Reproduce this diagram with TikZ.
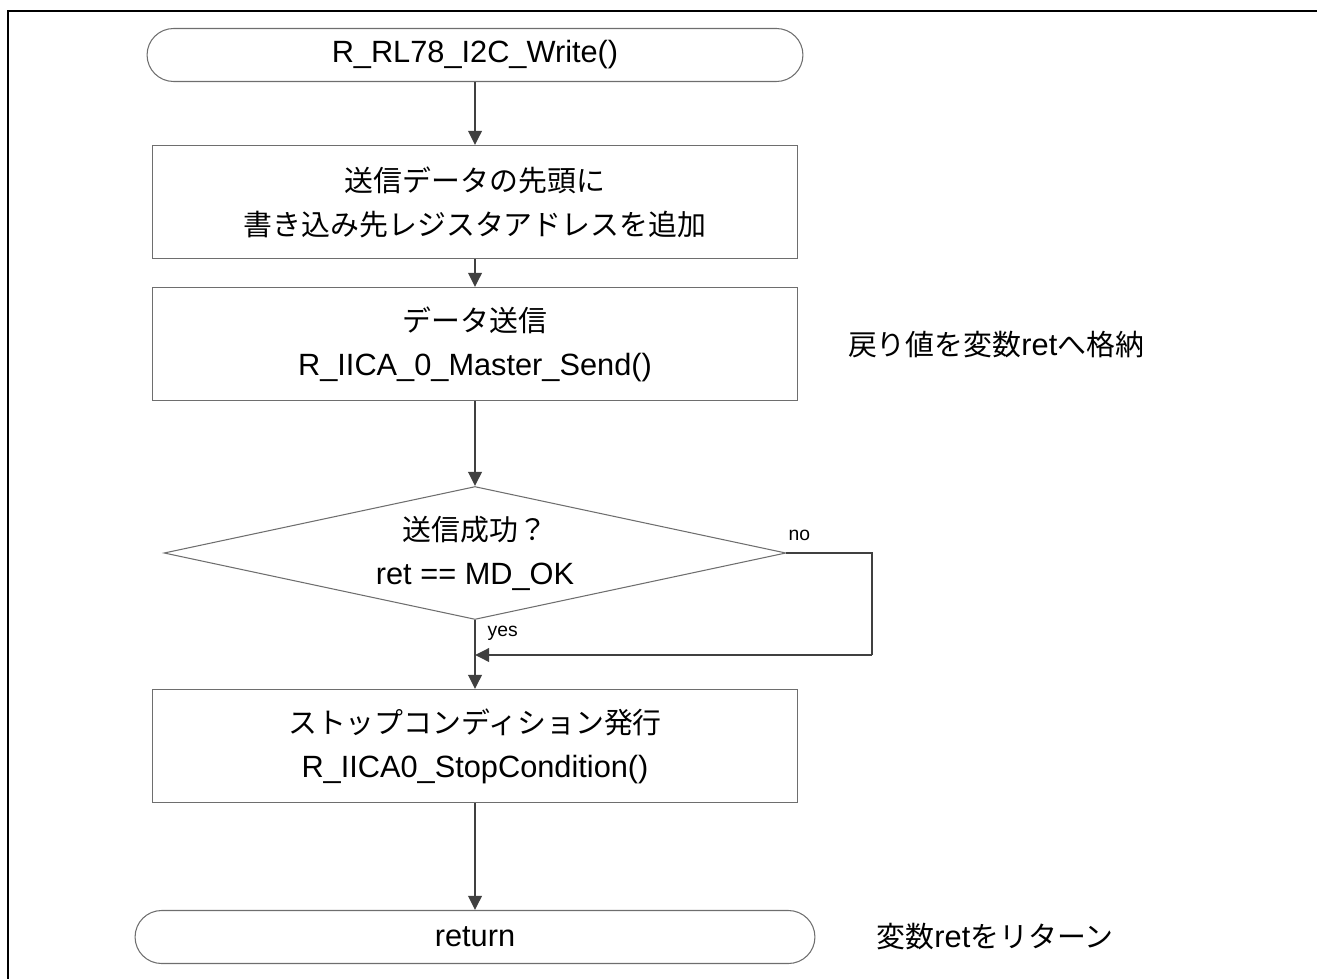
\documentclass[tikz,border=0pt]{standalone}
\usepackage{fontspec}
\setmainfont{Liberation Sans}
\newfontfamily\jp[Scale=0.94]{Noto Sans CJK JP}
\usetikzlibrary{arrows.meta,positioning,shapes.geometric}
\definecolor{flowgray}{RGB}{64,64,64}
\definecolor{boxgray}{RGB}{110,110,110}

\tikzset{
  term/.style={draw=boxgray, line width=0.6pt, rounded corners=0.53cm,
    minimum width=13.12cm, minimum height=1.06cm, inner sep=0pt,
    font=\fontsize{17.5}{21}\selectfont},
  proc/.style={draw=boxgray, line width=0.6pt, minimum width=12.9cm,
    minimum height=2.26cm, align=center, inner sep=0pt,
    font=\fontsize{17.5}{25}\selectfont},
  decide/.style={draw=boxgray, line width=0.6pt, diamond, aspect=4.68,
    minimum width=12.44cm, minimum height=2.66cm, inner sep=0pt,
    align=center, font=\fontsize{17.5}{25}\selectfont},
  note/.style={font=\fontsize{17.5}{21}\selectfont},
  tag/.style={font=\fontsize{11}{13}\selectfont, inner sep=1pt},
  flow/.style={-{Triangle[length=0.28cm,width=0.27cm]}, line width=1.1pt, flowgray},
  wire/.style={line width=1.1pt, flowgray}
}

\begin{document}
\begin{tikzpicture}[x=0.02cm, y=-0.02cm]
\useasboundingbox (0,0) rectangle (1317,979);
% frame
\draw [line width=1.5pt] (8,979) -- (8,11) -- (1317,11);

\node [term] (start) at (475,55) {R\_RL78\_I2C\_Write()};
\node [proc] (addr) at (475,202) {{\jp 送信データの先頭に}\\{\jp 書き込み先レジスタアドレスを追加}};
\node [proc] (send) at (475,344) {{\jp データ送信}\\R\_IICA\_0\_Master\_Send()};
\node [decide] (chk) at (475,553) {{\jp 送信成功？}\\ret == MD\_OK};
\node [proc] (stop) at (475,746) {{\jp ストップコンディション発行}\\R\_IICA0\_StopCondition()};
\node [term, minimum width=13.6cm] (ret) at (475,937) {return};

% notes
\node [note] (retnote) at (996,345) {{\jp 戻り値を変数}ret{\jp へ格納}};
\node [note] (endnote) at (995,937) {{\jp 変数}ret{\jp をリターン}};

\coordinate (turn) at (872,655);
\coordinate (merge) at (475,655);

\draw [flow] (start) -- (addr);
\draw [flow] (addr) -- (send);
\draw [flow] (send) -- (chk);
\draw [flow] (chk) -- (stop);
\draw [wire] (chk.east) -| (turn);
\draw [flow] (turn) -- (merge);
\draw [flow] (stop) -- (ret);

\node [tag, above right=6pt and 0pt of chk.east] (no) {no};
\node [tag, below right=2pt and 6pt of chk.south] (yes) {yes};
\end{tikzpicture}
\end{document}
